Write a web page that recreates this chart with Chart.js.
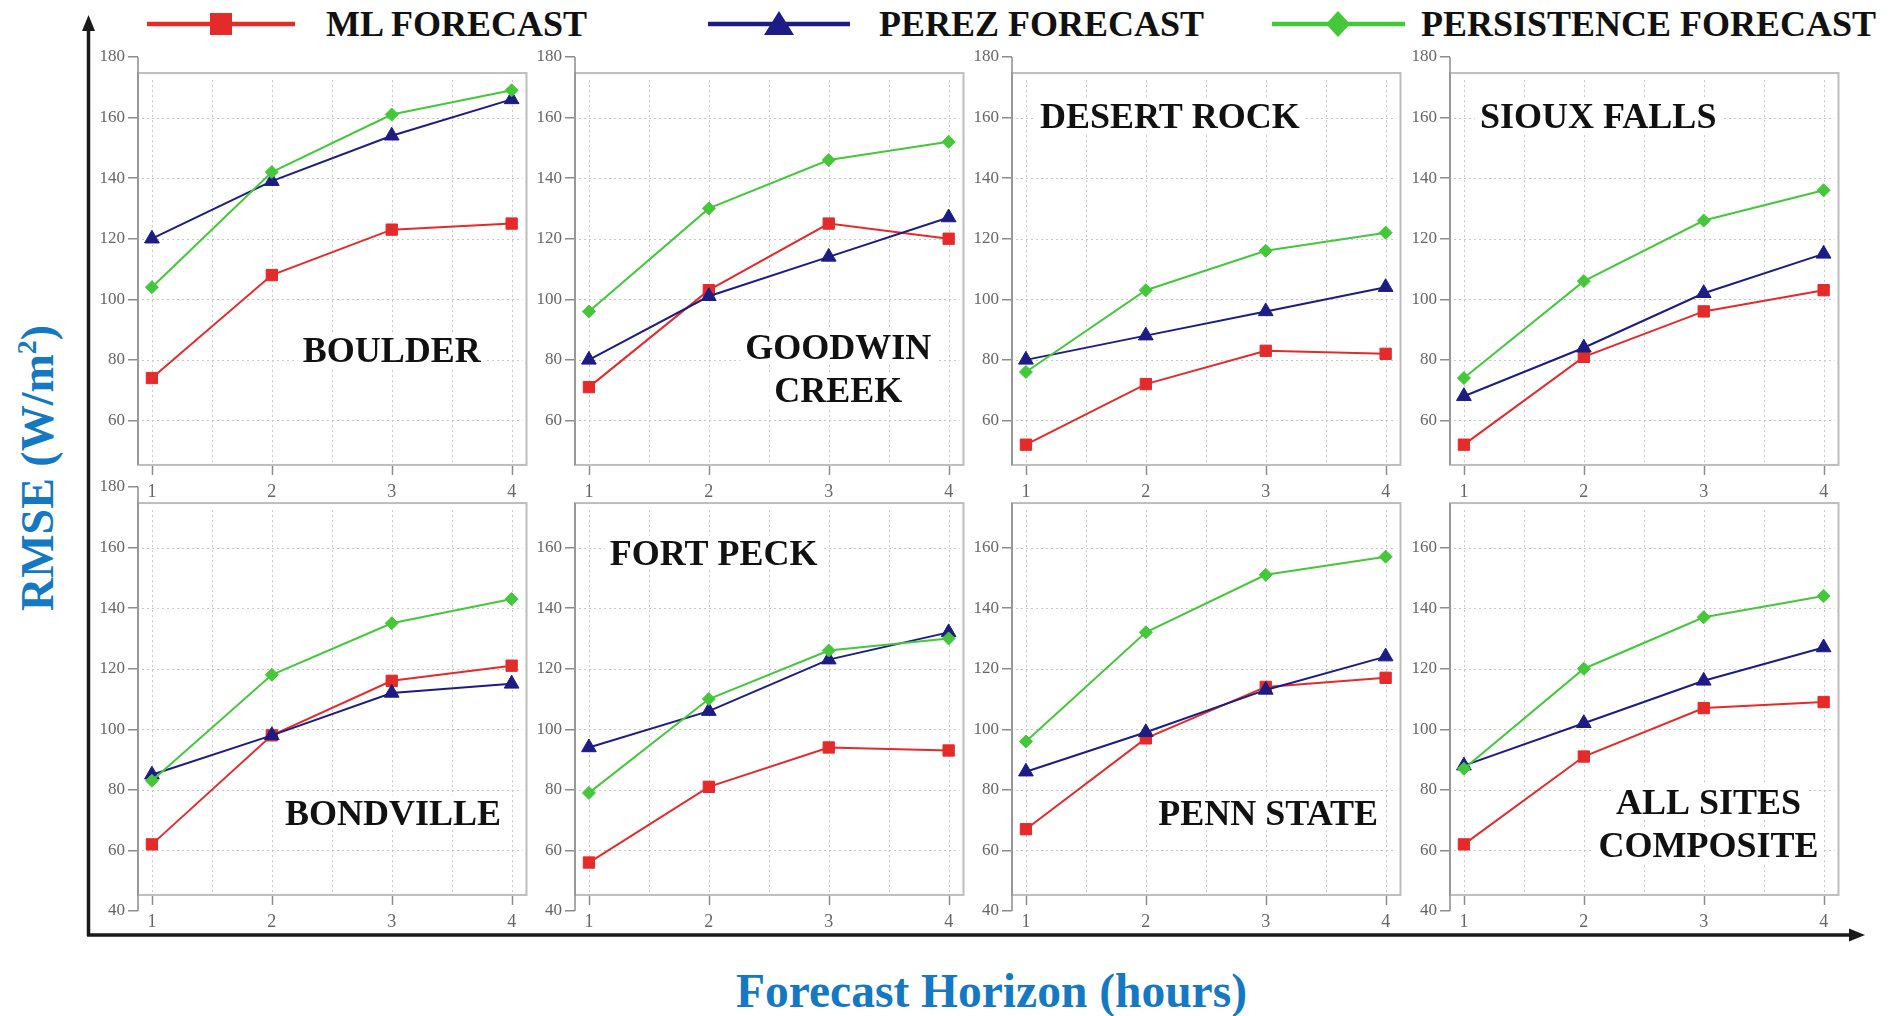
<!DOCTYPE html>
<html>
<head>
<meta charset="utf-8">
<title>RMSE by forecast horizon</title>
<script src="https://cdn.jsdelivr.net/npm/chart.js@4.4.1/dist/chart.umd.min.js"></script>
<style>
  html, body { margin: 0; padding: 0; background: #ffffff; }
  #stage { position: relative; width: 1895px; height: 1016px; overflow: hidden; background: #ffffff; }
  #stage canvas { position: absolute; }
  #overlay { position: absolute; left: 0; top: 0; }
</style>
</head>
<body>
<div id="stage">
  <svg id="overlay" width="1895" height="1016" xmlns="http://www.w3.org/2000/svg"></svg>
</div>
<script>
// ---- data -------------------------------------------------------------
const horizons = [1, 2, 3, 4];                                  // hours ahead
const rmseTicks = [40, 60, 80, 100, 120, 140, 160, 180];        // W/m^2
const gridHours = [1, 1.5, 2, 2.5, 3, 3.5, 4];
const gridRmse = [60, 80, 100, 120, 140, 160];

const sites = ['BOULDER', 'GOODWIN\nCREEK', 'DESERT ROCK', 'SIOUX FALLS',
               'BONDVILLE', 'FORT PECK', 'PENN STATE', 'ALL SITES\nCOMPOSITE'];

// RMSE per site, one row per site, one value per horizon
const mlForecast = [
  [74, 108, 123, 125],
  [71, 103, 125, 120],
  [52, 72, 83, 82],
  [52, 81, 96, 103],
  [62, 98, 116, 121],
  [56, 81, 94, 93],
  [67, 97, 114, 117],
  [62, 91, 107, 109]
];
const perezForecast = [
  [120, 139, 154, 166],
  [80, 101, 114, 127],
  [80, 88, 96, 104],
  [68, 84, 102, 115],
  [85, 98, 112, 115],
  [94, 106, 123, 132],
  [86, 99, 113, 124],
  [88, 102, 116, 127]
];
const persistenceForecast = [
  [104, 142, 161, 169],
  [96, 130, 146, 152],
  [76, 103, 116, 122],
  [74, 106, 126, 136],
  [83, 118, 135, 143],
  [79, 110, 126, 130],
  [96, 132, 151, 157],
  [87, 120, 137, 144]
];

// ---- styling & layout ---------------------------------------------------
const SERIF = "'Liberation Serif', 'Times New Roman', serif";
const series = [
  { name: 'ML FORECAST', values: mlForecast, color: '#e42a2a', marker: 'rect', radius: 8, order: 2 },
  { name: 'PEREZ FORECAST', values: perezForecast, color: '#1c1c84', marker: 'triangle', radius: 8.5, order: 1 },
  { name: 'PERSISTENCE FORECAST', values: persistenceForecast, color: '#44c83a', marker: 'rectRot', radius: 6.5, order: 0 }
];

// where each site name sits inside its panel (axis units, cap-height centre per line)
const labelSpots = [
  { x: 3.0, y: [83.2] },
  { x: 3.08, y: [84.1, 70.2] },
  { x: 2.2, y: [160.4] },
  { x: 2.12, y: [160.4] },
  { x: 3.01, y: [72.5] },
  { x: 2.04, y: [158.3] },
  { x: 3.02, y: [72.2] },
  { x: 3.04, y: [76.0, 61.7] }
];

const PANEL_LEFT = [138, 575, 1012, 1450];   // left edge of each plot box
const PANEL_TOP = [57, 487];                 // pixel row of the 180 tick
const AXIS_W = 70, PAD_TOP = 14, PAD_RIGHT = 6, X_AXIS_H = 28;
const PLOT_W = 392, PLOT_H = 424;
const X_MIN = 0.884, X_MAX = 4.124;
const BOX_TOP = 174.7, BOX_BOTTOM = 45.3;

const TICK_COLOR = '#666666';
const AXIS_COLOR = '#8c8c8c';

// ---- panel decoration plugin ---------------------------------------------
const panelFrame = {
  id: 'panelFrame',
  beforeDatasetsDraw(chart, args, opts) {
    const { ctx, chartArea: { left, right }, scales: { x, y } } = chart;
    const top = y.getPixelForValue(BOX_TOP);
    const bottom = y.getPixelForValue(BOX_BOTTOM);
    ctx.save();

    // dotted grid inside the box
    ctx.strokeStyle = '#c8c8c8';
    ctx.lineWidth = 1;
    ctx.setLineDash([2, 3]);
    gridHours.forEach(v => {
      const px = Math.round(x.getPixelForValue(v)) + 0.5;
      ctx.beginPath(); ctx.moveTo(px, top + 7); ctx.lineTo(px, bottom - 1); ctx.stroke();
    });
    gridRmse.forEach(v => {
      const py = Math.round(y.getPixelForValue(v)) + 0.5;
      ctx.beginPath(); ctx.moveTo(left + 4, py); ctx.lineTo(right - 4, py); ctx.stroke();
    });
    ctx.setLineDash([]);

    // plot box
    ctx.strokeStyle = '#bdbdbd';
    ctx.lineWidth = 2;
    ctx.strokeRect(left, top, right - left, bottom - top);

    // left axis line
    ctx.strokeStyle = AXIS_COLOR;
    ctx.lineWidth = 1.5;
    const a0 = y.getPixelForValue(opts.hideTop ? BOX_TOP : 180);
    const a1 = y.getPixelForValue(opts.hideBottom ? BOX_BOTTOM : 40);
    ctx.beginPath(); ctx.moveTo(left, a0); ctx.lineTo(left, a1); ctx.stroke();

    // x tick marks hanging under the box
    horizons.forEach(v => {
      const px = Math.round(x.getPixelForValue(v)) + 0.5;
      ctx.beginPath(); ctx.moveTo(px, bottom + 1); ctx.lineTo(px, bottom + 10); ctx.stroke();
    });

    // site name on a white patch
    const spot = opts.spot;
    ctx.font = 'bold 36px ' + SERIF;
    ctx.textAlign = 'center';
    ctx.textBaseline = 'alphabetic';
    const cx = x.getPixelForValue(spot.x);
    opts.name.split('\n').forEach((line, k) => {
      const cy = y.getPixelForValue(spot.y[k]);
      const w = ctx.measureText(line).width;
      ctx.fillStyle = '#ffffff';
      ctx.fillRect(cx - w / 2 - 5, cy - 17, w + 10, 34);
      ctx.fillStyle = '#111111';
      ctx.fillText(line, cx, cy + 12);
    });
    ctx.restore();
  }
};

// ---- build the eight panels ----------------------------------------------
const stage = document.getElementById('stage');

function buildPanel(i) {
  const col = i % 4, row = Math.floor(i / 4);
  const hideBottom = row === 0;             // 40 is covered by the row below
  const hideTop = row === 1 && col > 0;     // 180 is covered by the row above
  const hidden = v => (hideBottom && v === 40) || (hideTop && v === 180);

  const canvas = document.createElement('canvas');
  canvas.width = AXIS_W + PLOT_W + PAD_RIGHT;
  canvas.height = PAD_TOP + PLOT_H + X_AXIS_H;
  canvas.style.left = (PANEL_LEFT[col] - AXIS_W) + 'px';
  canvas.style.top = (PANEL_TOP[row] - PAD_TOP) + 'px';
  stage.appendChild(canvas);

  new Chart(canvas, {
    type: 'line',
    data: {
      datasets: series.map(s => ({
        label: s.name,
        data: horizons.map((h, k) => ({ x: h, y: s.values[i][k] })),
        borderColor: s.color,
        backgroundColor: s.color,
        borderWidth: 2,
        pointStyle: s.marker,
        pointRadius: s.radius,
        pointBorderWidth: 1,
        pointBorderColor: s.color,
        pointBackgroundColor: s.color,
        order: s.order,
        tension: 0,
        clip: false
      }))
    },
    options: {
      responsive: false,
      animation: false,
      devicePixelRatio: 1,
      layout: { padding: { top: PAD_TOP, right: PAD_RIGHT, left: 0, bottom: 0 } },
      plugins: {
        legend: { display: false },
        tooltip: { enabled: false },
        panelFrame: { name: sites[i], spot: labelSpots[i], hideTop, hideBottom }
      },
      scales: {
        x: {
          type: 'linear',
          min: X_MIN, max: X_MAX,
          afterBuildTicks: axis => { axis.ticks = horizons.map(v => ({ value: v })); },
          afterFit: axis => { axis.height = X_AXIS_H; },
          grid: { display: false, drawTicks: false },
          border: { display: false },
          ticks: { color: TICK_COLOR, font: { family: SERIF, size: 18 }, padding: 0, maxRotation: 0, autoSkip: false }
        },
        y: {
          type: 'linear',
          min: 40, max: 180,
          afterBuildTicks: axis => { axis.ticks = rmseTicks.map(v => ({ value: v })); },
          afterFit: axis => { axis.width = AXIS_W; },
          grid: {
            drawOnChartArea: false, drawTicks: true, tickLength: 10, lineWidth: 1.5,
            color: c => (c.tick && hidden(c.tick.value)) ? 'rgba(0,0,0,0)' : AXIS_COLOR
          },
          border: { display: false },
          ticks: {
            color: TICK_COLOR, font: { family: SERIF, size: 17 }, padding: 3, autoSkip: false,
            callback: v => hidden(v) ? '' : String(v)
          }
        }
      }
    },
    plugins: [panelFrame]
  });
}

sites.forEach((_, i) => buildPanel(i));

// ---- shared legend, axis arrows and axis titles ---------------------------
const NS = 'http://www.w3.org/2000/svg';
const svg = document.getElementById('overlay');
function el(tag, attrs, text) {
  const e = document.createElementNS(NS, tag);
  Object.entries(attrs).forEach(([k, v]) => e.setAttribute(k, v));
  if (text !== undefined) e.textContent = text;
  svg.appendChild(e);
  return e;
}

const legendSpots = [
  { line: [147, 295], mark: 221, text: 326 },
  { line: [708, 850], mark: 779, text: 879 },
  { line: [1272, 1405], mark: 1338, text: 1421 }
];
const LEG_Y = 24;
series.forEach((s, k) => {
  const L = legendSpots[k];
  el('line', { x1: L.line[0], y1: LEG_Y, x2: L.line[1], y2: LEG_Y, stroke: s.color, 'stroke-width': 4.5 });
  if (s.marker === 'rect') {
    el('rect', { x: L.mark - 11, y: LEG_Y - 11, width: 22, height: 22, fill: s.color });
  } else if (s.marker === 'triangle') {
    el('polygon', { points: `${L.mark},${LEG_Y - 13} ${L.mark - 15},${LEG_Y + 11} ${L.mark + 15},${LEG_Y + 11}`, fill: s.color });
  } else {
    el('polygon', { points: `${L.mark},${LEG_Y - 13} ${L.mark + 12},${LEG_Y} ${L.mark},${LEG_Y + 13} ${L.mark - 12},${LEG_Y}`, fill: s.color });
  }
  el('text', { x: L.text, y: LEG_Y + 12.4, 'font-family': SERIF, 'font-weight': 'bold', 'font-size': 36, fill: '#111111' }, s.name);
});

// axis arrows
el('line', { x1: 88.5, y1: 936, x2: 88.5, y2: 28, stroke: '#1a1a1a', 'stroke-width': 3.5 });
el('polygon', { points: '88.5,15 82,31 95,31', fill: '#1a1a1a' });
el('line', { x1: 87, y1: 935, x2: 1852, y2: 935, stroke: '#1a1a1a', 'stroke-width': 3.5 });
el('polygon', { points: '1865,935 1849,928.5 1849,941.5', fill: '#1a1a1a' });

// axis titles
const TITLE_BLUE = '#1478c2';
el('text', { x: 991.5, y: 1007, 'text-anchor': 'middle', 'font-family': SERIF, 'font-weight': 'bold', 'font-size': 47.5, fill: TITLE_BLUE }, 'Forecast Horizon (hours)');
const yTitle = el('text', { transform: 'translate(53,468) rotate(-90)', 'text-anchor': 'middle', 'font-family': SERIF, 'font-weight': 'bold', 'font-size': 46, fill: TITLE_BLUE }, 'RMSE (W/m');
const sup = document.createElementNS(NS, 'tspan');
sup.setAttribute('dy', '-17'); sup.setAttribute('font-size', '28'); sup.textContent = '2';
const close = document.createElementNS(NS, 'tspan');
close.setAttribute('dy', '17'); close.textContent = ')';
yTitle.appendChild(sup); yTitle.appendChild(close);
</script>
</body>
</html>
